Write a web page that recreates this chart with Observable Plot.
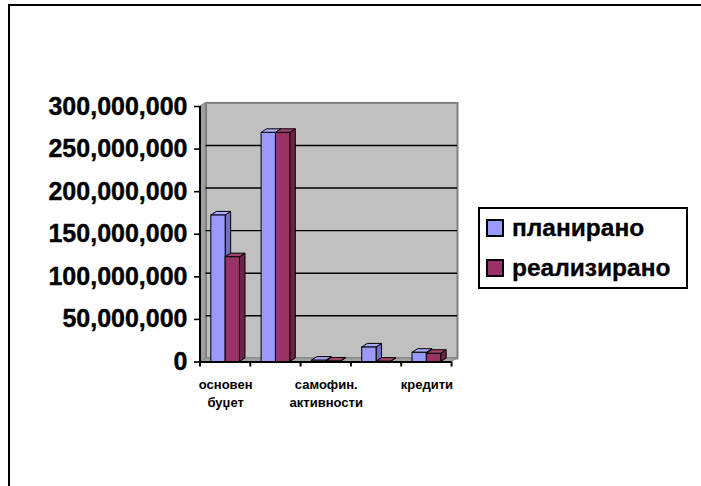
<!DOCTYPE html>
<html>
<head>
<meta charset="utf-8">
<script src="https://cdn.jsdelivr.net/npm/d3@7"></script>
<script src="https://cdn.jsdelivr.net/npm/@observablehq/plot@0.6"></script>
<style>
  html, body { margin: 0; padding: 0; background: #fff; overflow: hidden; }
  #page { position: relative; width: 701px; height: 486px; overflow: hidden; background: #fff;
          font-family: "Liberation Sans", Arial, sans-serif; font-weight: bold; color: #000; }
  #border { position: absolute; left: 8px; top: 4px; width: 900px; height: 700px;
            border-left: 2px solid #000; border-top: 2px solid #000; }
  #chart { position: absolute; left: 0; top: 0; }
  #chart svg g[aria-label="y-axis tick label"] text { stroke: #000; stroke-width: 0.4px; }
  #legend { position: absolute; left: 478px; top: 207px; width: 206px; height: 78px;
            border: 2px solid #000; background: #fff; }
  .item { position: absolute; left: 6px; height: 40px; display: flex; align-items: center;
          font-size: 24.5px; white-space: nowrap; -webkit-text-stroke: 0.3px #000; }
  .sw { width: 14px; height: 14px; border: 2px solid #000; margin-right: 8px; flex: none; }
</style>
</head>
<body>
<div id="page">
  <div id="border"></div>
  <div id="chart"></div>
  <div id="legend"></div>
</div>
<script>
// ---- data ----
const categories = ["основен буџет", "дотации", "самофин. активности", "донации", "кредити"];
const tickLabels = ["основен\nбуџет", "", "самофин.\nактивности", "", "кредити"];
const seriesNames = ["планирано", "реализирано"];
const planned  = [172000000, 269000000, 1500000, 17000000, 10800000];
const realized = [123000000, 269000000,  500000,   300000,  9600000];
const yTicks = [0, 50000000, 100000000, 150000000, 200000000, 250000000, 300000000];
const colors = { "планирано": "#9999ff", "реализирано": "#993366" };
const topColors = { "планирано": "#aaaaff", "реализирано": "#a8436f" };
const sideColors = { "планирано": "#7070c8", "реализирано": "#6e2349" };

const rows = [];
categories.forEach((c, i) => {
  rows.push({category: c, series: seriesNames[0], value: planned[i]});
  rows.push({category: c, series: seriesNames[1], value: realized[i]});
});

// ---- layout ----
const W = 470, H = 430;
const mL = 200, mR = 18.5, mT = 106, mB = 68.5;
const padIn = 0.43;
const DX = 5.5, DY = -3.6;
const bandW = ((W - mL - mR) / categories.length) * (1 - padIn);

function faces(name) {
  return (index, scales) => {
    const {x, y} = scales;
    const bw = x.bandwidth();
    const g = d3.create("svg:g").attr("stroke", "#000").attr("stroke-width", 1).attr("stroke-linejoin", "round");
    rows.filter(r => r.series === name).forEach(r => {
      const x0 = x(r.category) + (name === seriesNames[0] ? 0 : bw / 2);
      const x1 = x0 + bw / 2;
      const yt = y(r.value), yb = y(0);
      g.append("path").attr("fill", sideColors[name])
        .attr("d", `M${x1},${yt}L${x1 + DX},${yt + DY}L${x1 + DX},${yb + DY}L${x1},${yb}Z`);
      g.append("path").attr("fill", topColors[name])
        .attr("d", `M${x0},${yt}L${x0 + DX},${yt + DY}L${x1 + DX},${yt + DY}L${x1},${yt}Z`);
    });
    return g.node();
  };
}

function walls(index, scales) {
  const {x, y} = scales;
  const [r0, r1] = x.range();
  const y0 = y(0), yTop = y(yTicks[yTicks.length - 1]);
  const g = d3.create("svg:g");
  g.append("path").attr("fill", "#a0a0a0").attr("stroke", "#808080")
    .attr("d", `M${r0},${yTop}L${r0 + DX},${yTop + DY}L${r0 + DX},${y0 + DY}L${r0},${y0}Z`);
  g.append("path").attr("fill", "#a0a0a0").attr("stroke", "#808080")
    .attr("d", `M${r0},${y0}L${r0 + DX},${y0 + DY}L${r1 + DX},${y0 + DY}L${r1},${y0}Z`);
  return g.node();
}

function axisLines(index, scales) {
  const {x, y} = scales;
  const [r0] = x.range();
  const step = x.step();
  const y0 = y(0), yTop = y(yTicks[yTicks.length - 1]);
  const g = d3.create("svg:g").attr("stroke", "#000");
  g.append("line").attr("x1", r0).attr("x2", r0).attr("y1", yTop).attr("y2", y0 + 1).attr("stroke-width", 2);
  for (let i = 0; i <= categories.length; i++) {
    const xx = r0 + i * step;
    g.append("line").attr("x1", xx).attr("x2", xx).attr("y1", y0).attr("y2", y0 + 5).attr("stroke-width", 2);
  }
  return g.node();
}

const chart = Plot.plot({
  width: W, height: H,
  marginLeft: mL, marginRight: mR, marginTop: mT, marginBottom: mB,
  style: {fontFamily: '"Liberation Sans", Arial, sans-serif', fontWeight: "bold", color: "#000", background: "transparent", overflow: "visible"},
  x: {domain: categories, paddingInner: padIn, paddingOuter: padIn / 2, round: false, label: null},
  y: {domain: [0, 300000000], label: null},
  marks: [
    Plot.frame({fill: "#c0c0c0", stroke: "#808080", strokeWidth: 2, dx: DX, dy: DY}),
    walls,
    Plot.gridY(yTicks.slice(1, -1), {stroke: "#000", strokeOpacity: 1, strokeWidth: 1.4, dx: DX, dy: DY}),
    faces(seriesNames[0]),
    Plot.barY(rows.filter(r => r.series === seriesNames[0]), {x: "category", y: "value", fill: colors[seriesNames[0]], stroke: "#000", strokeWidth: 1, insetRight: bandW / 2}),
    faces(seriesNames[1]),
    Plot.barY(rows.filter(r => r.series === seriesNames[1]), {x: "category", y: "value", fill: colors[seriesNames[1]], stroke: "#000", strokeWidth: 1, insetLeft: bandW / 2}),
    Plot.ruleY([0], {stroke: "#000", strokeWidth: 2}),
    axisLines,
    Plot.axisY({ticks: yTicks, tickFormat: d3.format(","), tickSize: 6, tickPadding: 7, fontSize: 25, fontWeight: "bold", stroke: "#000", strokeWidth: 1.6, label: null}),
    Plot.axisX({tickSize: 0, tickPadding: 14, fontSize: 13, fontWeight: "bold", lineHeight: 1.4, tickFormat: (d, i) => tickLabels[categories.indexOf(d)], label: null})
  ]
});
document.getElementById("chart").appendChild(chart);

// ---- legend ----
const legend = document.getElementById("legend");
seriesNames.forEach((name, i) => {
  const item = document.createElement("div");
  item.className = "item";
  item.style.top = (-1 + i * 40) + "px";
  const sw = document.createElement("span");
  sw.className = "sw";
  sw.style.background = colors[name];
  const t = document.createElement("span");
  t.textContent = name;
  item.appendChild(sw);
  item.appendChild(t);
  legend.appendChild(item);
});
</script>
</body>
</html>
